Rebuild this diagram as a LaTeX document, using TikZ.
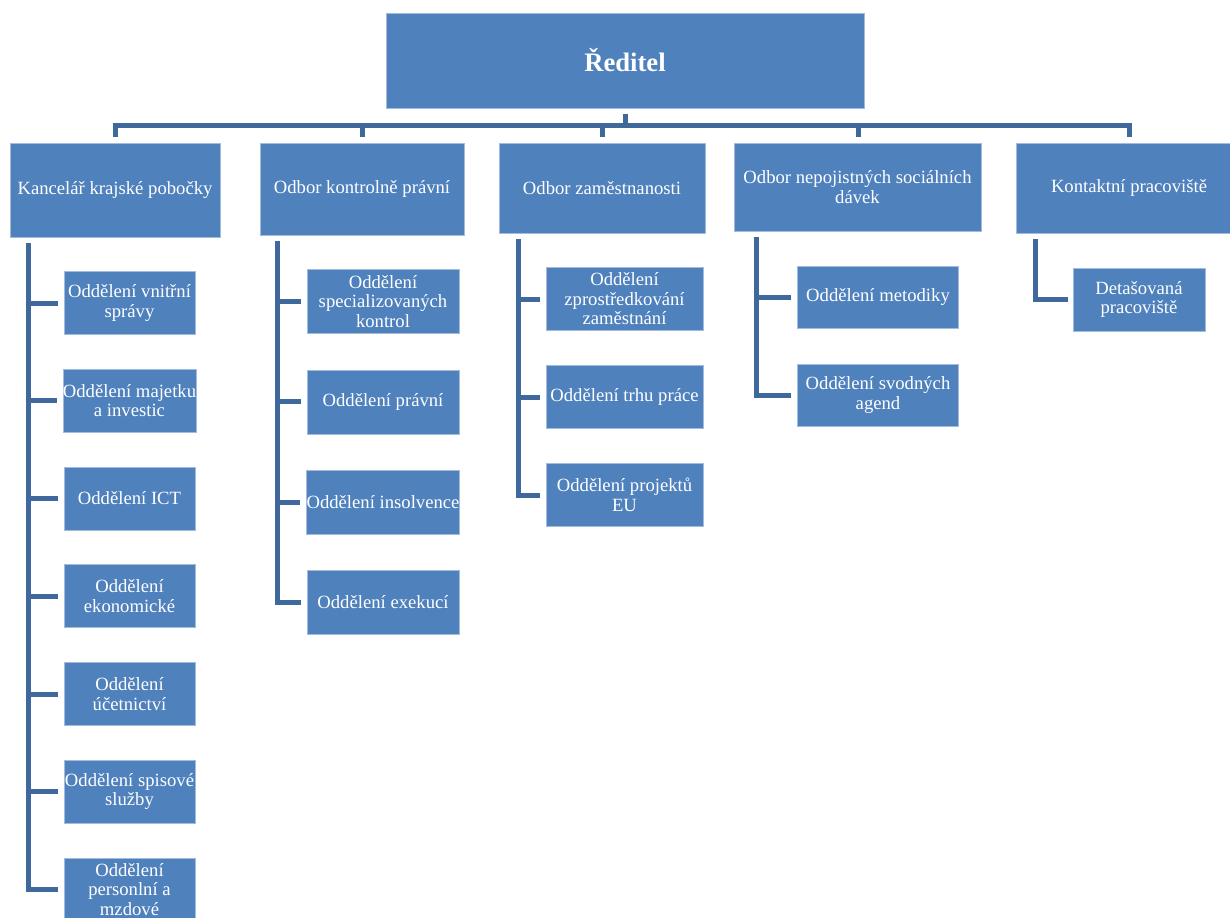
\documentclass[tikz,border=0pt]{standalone}
\usepackage{fontspec}
\setmainfont{Liberation Serif}
\usetikzlibrary{calc}
\definecolor{boxblue}{HTML}{4F81BD}
\definecolor{boxedge}{HTML}{A3BCDD}
\definecolor{linkblue}{HTML}{3F699C}
\def\px{0.75pt}
\tikzstyle{chief}=[rectangle,draw=boxedge,fill=boxblue,text=white,inner sep=0pt,font=\fontsize{20}{24}\selectfont\bfseries]
\tikzstyle{head}=[rectangle,draw=boxedge,fill=boxblue,text=white,inner sep=0pt,align=center,font=\fontsize{14}{14.6}\selectfont]
\tikzstyle{unit}=[rectangle,draw=boxedge,fill=boxblue,text=white,inner sep=0pt,align=center,font=\fontsize{14}{14.6}\selectfont]
\tikzstyle{link}=[draw=linkblue,line width=5*\px]

\begin{document}
\begin{tikzpicture}[x=\px,y=-\px]
\useasboundingbox (0,0) rectangle (1230,917);
\def \hd {62};

\node[chief,minimum width=478*\px,minimum height=95*\px] (dir) at (625,60.5) {Ředitel};

\node[head,minimum width=210*\px,minimum height=94*\px] (h1) at (115,190) {Kancelář krajské pobočky};
\node[head,minimum width=204*\px,minimum height=92*\px] (h2) at (362,189) {Odbor kontrolně právní};
\node[head,minimum width=206*\px,minimum height=90*\px] (h3) at (602,188) {Odbor zaměstnanosti};
\node[head,minimum width=247*\px,minimum height=88*\px] (h4) at (857.5,187) {Odbor nepojistných sociálních\\dávek};
\node[head,minimum width=226*\px,minimum height=90*\px] (h5) at (1129,188) {Kontaktní pracoviště};

\draw[link] ([yshift=-6*\px]dir.south) -- ++(0,11) coordinate (hub);

\foreach \i/\dx in {1/0,2/0,3/0,4/0.5,5/0} {
	\draw[link] ([xshift=\dx*\px,yshift=6*\px]h\i.north) |- (hub);
};

\foreach \i/\dx in {1/19,2/18,3/20,4/23,5/20} {
	\coordinate (t\i) at ([xshift=\dx*\px,yshift=-6*\px]h\i.south west);
};

\foreach \i/\txt in {1/{Oddělení vnitřní\\správy},2/{Oddělení majetku\\a investic},3/{Oddělení ICT},4/{Oddělení\\ekonomické},5/{Oddělení\\účetnictví},6/{Oddělení spisové\\služby},7/{Oddělení\\personlní a\\mzdové}} {
	\node[unit,minimum width=131*\px,minimum height=63*\px] (k\i)
	at (129.5, 303 + 97.75*\i - 97.75) {\txt};
	\draw[link] (t1) |- ([xshift=-6*\px]k\i.west);
};

\foreach \i/\txt in {1/{Oddělení\\specializovaných\\kontrol},2/{Oddělení právní},3/{Oddělení insolvence},4/{Oddělení exekucí}} {
	\node[unit,minimum width=152*\px,minimum height=64*\px] (p\i)
	at (383, 301.5 + 100.3*\i - 100.3) {\txt};
	\draw[link] (t2) |- ([xshift=-6*\px]p\i.west);
};

\foreach \i/\txt in {1/{Oddělení\\zprostředkování\\zaměstnání},2/{Oddělení trhu práce},3/{Oddělení projektů\\EU}} {
	\node[unit,minimum width=157*\px,minimum height=63*\px] (z\i)
	at (624.5, 299 + 98*\i - 98) {\txt};
	\draw[link] (t3) |- ([xshift=-6*\px]z\i.west);
};

\foreach \i/\txt in {1/{Oddělení metodiky},2/{Oddělení svodných\\agend}} {
	\node[unit,minimum width=161*\px,minimum height=\hd*\px] (n\i)
	at (878, 297 + 98*\i - 98) {\txt};
	\draw[link] (t4) |- ([xshift=-6*\px]n\i.west);
};

\node[unit,minimum width=132*\px,minimum height=63*\px] (d1) at (1139,299.5) {Detašovaná\\pracoviště};
\draw[link] (t5) |- ([xshift=-5*\px]d1.west);

\end{tikzpicture}
\end{document}
